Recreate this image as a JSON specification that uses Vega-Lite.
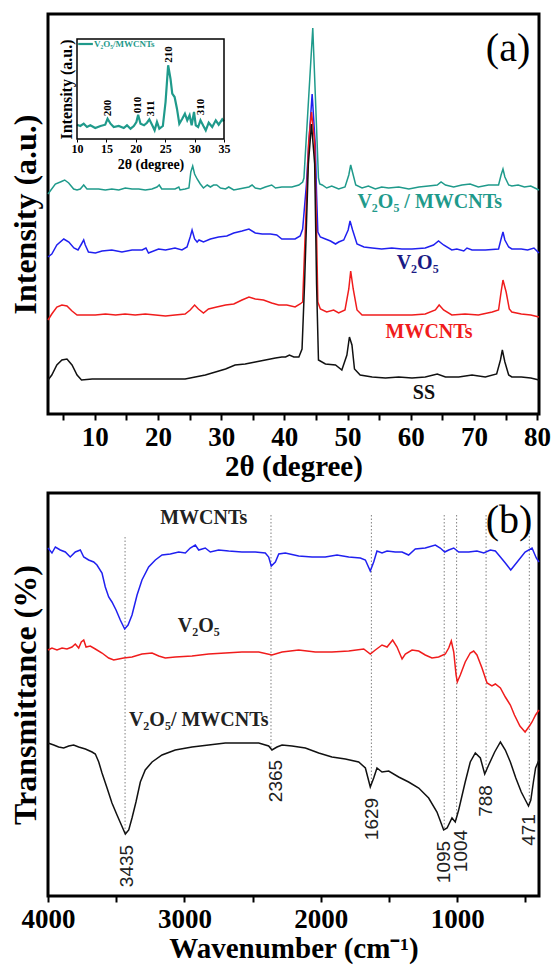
{
  "$schema": "https://vega.github.io/schema/vega-lite/v6.json",
  "padding": {"left": 7, "top": 12, "right": 0, "bottom": 0},
  "spacing": 8,
  "config": {
    "font": "Liberation Serif",
    "view": {"stroke": "#000", "strokeWidth": 3},
    "axis": {
      "labelFont": "Liberation Serif", "titleFont": "Liberation Serif",
      "labelColor": "#000", "titleColor": "#000", "tickColor": "#000",
      "labelFontWeight": "bold", "titleFontWeight": "bold",
      "grid": false, "domain": false
    }
  },
  "datasets": {
    "xC": [{"t":2.6,"i":220},{"t":3.76,"i":230},{"t":4.55,"i":232},{"t":5.24,"i":234},{"t":5.87,"i":231},{"t":6.66,"i":225},{"t":7.19,"i":224},{"t":7.71,"i":225},{"t":8.25,"i":229},{"t":8.77,"i":225},{"t":9.56,"i":225},{"t":10.6,"i":225},{"t":11.67,"i":224},{"t":12.7,"i":225},{"t":13.8,"i":224},{"t":14.83,"i":226},{"t":15.9,"i":225},{"t":16.95,"i":225},{"t":18.0,"i":224},{"t":19.05,"i":225},{"t":19.85,"i":227},{"t":20.2,"i":229},{"t":20.6,"i":225},{"t":21.7,"i":225},{"t":22.7,"i":225},{"t":23.3,"i":227},{"t":23.5,"i":224},{"t":24.3,"i":225},{"t":24.9,"i":226},{"t":25.2,"i":242},{"t":25.5,"i":248},{"t":25.8,"i":240},{"t":26.2,"i":235},{"t":26.7,"i":230},{"t":27.2,"i":226},{"t":27.8,"i":229},{"t":28.3,"i":227},{"t":28.8,"i":229},{"t":29.3,"i":229},{"t":29.9,"i":226},{"t":30.7,"i":225},{"t":31.2,"i":227},{"t":32.0,"i":224},{"t":32.8,"i":225},{"t":33.6,"i":226},{"t":34.4,"i":227},{"t":34.9,"i":229},{"t":35.4,"i":226},{"t":36.2,"i":225},{"t":37.0,"i":227},{"t":38.0,"i":229},{"t":38.6,"i":226},{"t":39.6,"i":227},{"t":40.5,"i":227},{"t":41.2,"i":227},{"t":42.3,"i":229},{"t":42.9,"i":232},{"t":43.1,"i":236},{"t":44.5,"i":386},{"t":45.4,"i":236},{"t":45.6,"i":230},{"t":46.0,"i":229},{"t":46.7,"i":226},{"t":47.5,"i":228},{"t":48.6,"i":225},{"t":49.6,"i":227},{"t":50.2,"i":239},{"t":50.5,"i":249},{"t":50.9,"i":239},{"t":51.3,"i":229},{"t":52.3,"i":226},{"t":53.3,"i":228},{"t":54.4,"i":225},{"t":55.4,"i":227},{"t":56.5,"i":226},{"t":58.1,"i":227},{"t":59.7,"i":225},{"t":61.3,"i":227},{"t":62.8,"i":228},{"t":64.2,"i":229},{"t":64.8,"i":232},{"t":65.5,"i":229},{"t":66.8,"i":227},{"t":68.1,"i":229},{"t":69.4,"i":230},{"t":70.7,"i":227},{"t":72.3,"i":229},{"t":73.9,"i":229},{"t":74.3,"i":239},{"t":74.6,"i":245},{"t":74.9,"i":237},{"t":75.5,"i":229},{"t":76.0,"i":228},{"t":77.0,"i":229},{"t":78.0,"i":227},{"t":79.0,"i":228},{"t":80.3,"i":224}],
    "xV": [{"t":2.6,"i":157},{"t":3.2,"i":160},{"t":4.0,"i":169},{"t":5.1,"i":175},{"t":5.9,"i":172},{"t":6.7,"i":166},{"t":7.35,"i":164},{"t":7.9,"i":170},{"t":8.25,"i":174},{"t":8.5,"i":169},{"t":9.0,"i":162},{"t":10.1,"i":161},{"t":11.15,"i":163},{"t":12.7,"i":164},{"t":14.3,"i":162},{"t":15.9,"i":164},{"t":17.5,"i":164},{"t":18.1,"i":166},{"t":18.5,"i":161},{"t":20.1,"i":165},{"t":21.2,"i":164},{"t":22.7,"i":166},{"t":23.8,"i":164},{"t":24.6,"i":167},{"t":25.1,"i":177},{"t":25.4,"i":184},{"t":25.8,"i":175},{"t":26.2,"i":172},{"t":26.5,"i":174},{"t":27.2,"i":172},{"t":28.3,"i":175},{"t":29.6,"i":177},{"t":30.9,"i":178},{"t":32.0,"i":181},{"t":33.3,"i":183},{"t":34.4,"i":185},{"t":35.4,"i":181},{"t":36.5,"i":180},{"t":37.8,"i":180},{"t":38.8,"i":179},{"t":39.6,"i":175},{"t":40.7,"i":175},{"t":41.7,"i":175},{"t":42.5,"i":178},{"t":42.9,"i":185},{"t":43.5,"i":230},{"t":43.85,"i":269},{"t":44.4,"i":320},{"t":44.9,"i":269},{"t":45.1,"i":220},{"t":45.3,"i":182},{"t":45.7,"i":177},{"t":46.5,"i":175},{"t":47.3,"i":173},{"t":48.1,"i":170},{"t":48.6,"i":172},{"t":49.4,"i":174},{"t":50.1,"i":184},{"t":50.4,"i":193},{"t":50.8,"i":184},{"t":51.5,"i":170},{"t":52.6,"i":167},{"t":53.9,"i":166},{"t":55.4,"i":165},{"t":57.0,"i":166},{"t":58.6,"i":165},{"t":60.2,"i":165},{"t":62.3,"i":166},{"t":63.6,"i":169},{"t":64.4,"i":173},{"t":65.2,"i":169},{"t":66.5,"i":164},{"t":67.3,"i":165},{"t":68.4,"i":163},{"t":68.9,"i":166},{"t":69.7,"i":164},{"t":71.8,"i":164},{"t":73.9,"i":165},{"t":74.3,"i":175},{"t":74.6,"i":182},{"t":74.9,"i":174},{"t":75.5,"i":167},{"t":76.0,"i":165},{"t":77.5,"i":165},{"t":78.5,"i":164},{"t":79.5,"i":166},{"t":80.3,"i":161}],
    "xM": [{"t":2.6,"i":94},{"t":3.2,"i":100},{"t":4.0,"i":107},{"t":4.8,"i":109},{"t":5.6,"i":108},{"t":6.4,"i":103},{"t":7.2,"i":99},{"t":8.5,"i":99},{"t":10.1,"i":99},{"t":11.7,"i":100},{"t":13.3,"i":99},{"t":14.8,"i":100},{"t":16.4,"i":99},{"t":18.0,"i":100},{"t":19.6,"i":99},{"t":21.2,"i":98},{"t":22.7,"i":99},{"t":24.3,"i":100},{"t":25.1,"i":104},{"t":25.8,"i":109},{"t":26.4,"i":105},{"t":27.2,"i":101},{"t":28.0,"i":105},{"t":29.3,"i":107},{"t":30.7,"i":109},{"t":32.0,"i":110},{"t":33.3,"i":114},{"t":34.4,"i":117},{"t":35.4,"i":115},{"t":36.7,"i":114},{"t":38.0,"i":111},{"t":39.1,"i":109},{"t":40.4,"i":109},{"t":41.7,"i":107},{"t":42.5,"i":110},{"t":42.9,"i":112},{"t":43.3,"i":180},{"t":43.85,"i":272},{"t":44.3,"i":302},{"t":44.8,"i":272},{"t":45.1,"i":180},{"t":45.3,"i":112},{"t":45.7,"i":105},{"t":46.7,"i":102},{"t":47.8,"i":104},{"t":48.6,"i":101},{"t":49.6,"i":104},{"t":50.2,"i":125},{"t":50.5,"i":143},{"t":50.9,"i":125},{"t":51.5,"i":104},{"t":52.3,"i":99},{"t":53.9,"i":99},{"t":56.0,"i":99},{"t":58.1,"i":99},{"t":60.2,"i":99},{"t":62.3,"i":100},{"t":63.9,"i":104},{"t":64.5,"i":109},{"t":65.2,"i":104},{"t":66.5,"i":99},{"t":68.6,"i":100},{"t":70.7,"i":99},{"t":72.9,"i":102},{"t":73.9,"i":104},{"t":74.3,"i":122},{"t":74.6,"i":134},{"t":75.1,"i":122},{"t":75.6,"i":105},{"t":76.0,"i":102},{"t":77.5,"i":100},{"t":79.0,"i":99},{"t":80.3,"i":97}],
    "xS": [{"t":2.6,"i":34},{"t":3.2,"i":39},{"t":4.0,"i":49},{"t":4.8,"i":54},{"t":5.6,"i":55},{"t":6.4,"i":49},{"t":7.2,"i":39},{"t":7.9,"i":34},{"t":9.6,"i":35},{"t":12.2,"i":35},{"t":14.8,"i":35},{"t":17.5,"i":35},{"t":20.1,"i":35},{"t":22.7,"i":35},{"t":24.3,"i":35},{"t":25.9,"i":37},{"t":27.5,"i":39},{"t":29.1,"i":42},{"t":30.7,"i":45},{"t":32.2,"i":49},{"t":33.8,"i":50},{"t":35.4,"i":52},{"t":37.0,"i":54},{"t":38.6,"i":56},{"t":39.6,"i":57},{"t":40.2,"i":57},{"t":40.8,"i":59},{"t":41.5,"i":57},{"t":42.3,"i":57},{"t":42.8,"i":65},{"t":43.2,"i":130},{"t":43.8,"i":250},{"t":44.3,"i":290},{"t":44.8,"i":250},{"t":45.1,"i":130},{"t":45.4,"i":54},{"t":46.5,"i":50},{"t":48.1,"i":49},{"t":49.1,"i":44},{"t":49.9,"i":59},{"t":50.3,"i":77},{"t":50.7,"i":69},{"t":51.1,"i":45},{"t":52.0,"i":39},{"t":53.9,"i":37},{"t":56.0,"i":36},{"t":58.1,"i":37},{"t":60.2,"i":36},{"t":62.3,"i":37},{"t":64.2,"i":40},{"t":65.5,"i":37},{"t":67.6,"i":37},{"t":69.7,"i":39},{"t":71.8,"i":37},{"t":73.6,"i":40},{"t":74.2,"i":54},{"t":74.5,"i":64},{"t":74.9,"i":52},{"t":75.5,"i":39},{"t":76.0,"i":37},{"t":77.5,"i":37},{"t":79.0,"i":36},{"t":80.3,"i":34}],
    "xLabels": [{"t":63.0,"i":212,"txt":"V₂O₅ / MWCNTs","s":"V2O5/MWCNTs"},{"t":61.1,"i":151,"txt":"V₂O₅","s":"V2O5"},{"t":62.9,"i":82,"txt":"MWCNTs","s":"MWCNTs"},{"t":62.1,"i":21,"txt":"SS","s":"SS"}],
    "xTag": [{"t":75.4,"i":365,"txt":"(a)"}],
    "inset": [{"t":10.0,"i":14.3},{"t":10.57,"i":13},{"t":11.14,"i":15.3},{"t":11.7,"i":12},{"t":12.27,"i":13.7},{"t":13.1,"i":11},{"t":14.0,"i":13},{"t":14.8,"i":14.3},{"t":15.2,"i":20.3},{"t":15.7,"i":15.3},{"t":16.25,"i":12},{"t":17.1,"i":13},{"t":17.95,"i":11},{"t":18.5,"i":13.7},{"t":19.1,"i":10.3},{"t":19.66,"i":13},{"t":20.1,"i":17},{"t":20.4,"i":24.3},{"t":20.8,"i":15.3},{"t":21.4,"i":13.7},{"t":21.9,"i":16.3},{"t":22.3,"i":19.7},{"t":22.8,"i":13.7},{"t":23.2,"i":8.7},{"t":23.6,"i":17},{"t":24.0,"i":10.3},{"t":24.6,"i":13},{"t":25.06,"i":37},{"t":25.5,"i":73.7},{"t":25.9,"i":60.3},{"t":26.2,"i":45.3},{"t":26.6,"i":42},{"t":27.0,"i":30.3},{"t":27.4,"i":15.3},{"t":27.9,"i":20.3},{"t":28.35,"i":25.3},{"t":28.75,"i":18.7},{"t":29.15,"i":23.7},{"t":29.5,"i":13.7},{"t":29.9,"i":27},{"t":30.2,"i":13.7},{"t":30.6,"i":12},{"t":31.0,"i":18.7},{"t":31.5,"i":13},{"t":31.9,"i":8.7},{"t":32.4,"i":16.3},{"t":33.0,"i":12},{"t":33.6,"i":18.7},{"t":34.1,"i":14.3},{"t":34.7,"i":19.7},{"t":35.0,"i":17.7}],
    "insetFrame": [{"t":10,"t1":35,"i":0,"i1":100}],
    "insetLegend": [{"t":10.2,"t1":12.7,"tx":12.9,"i":95,"txt":"V₂O₅/MWCNTs"}],
    "insetPeaks": [{"t":15.2,"i":31,"txt":"200"},{"t":20.4,"i":34,"txt":"010"},{"t":22.5,"i":30.5,"txt":"311"},{"t":25.6,"i":84.5,"txt":"210"},{"t":31.1,"i":32,"txt":"310"}],
    "fM": [{"w":4000,"T":348},{"w":3971,"T":343},{"w":3946,"T":349},{"w":3910,"T":346},{"w":3873,"T":344},{"w":3837,"T":339},{"w":3800,"T":344},{"w":3763,"T":346},{"w":3738,"T":339},{"w":3702,"T":336},{"w":3665,"T":334},{"w":3641,"T":331},{"w":3604,"T":323},{"w":3580,"T":309},{"w":3555,"T":299},{"w":3531,"T":294},{"w":3501,"T":286},{"w":3470,"T":276},{"w":3438,"T":267},{"w":3413,"T":271},{"w":3384,"T":281},{"w":3347,"T":301},{"w":3311,"T":316},{"w":3262,"T":329},{"w":3213,"T":336},{"w":3164,"T":341},{"w":3103,"T":342},{"w":3042,"T":344},{"w":2993,"T":343},{"w":2957,"T":348},{"w":2920,"T":351},{"w":2895,"T":346},{"w":2847,"T":348},{"w":2810,"T":344},{"w":2749,"T":346},{"w":2675,"T":345},{"w":2578,"T":344},{"w":2480,"T":344},{"w":2407,"T":343},{"w":2382,"T":339},{"w":2363,"T":330},{"w":2333,"T":334},{"w":2308,"T":342},{"w":2260,"T":343},{"w":2162,"T":340},{"w":2064,"T":339},{"w":1967,"T":339},{"w":1881,"T":341},{"w":1795,"T":339},{"w":1710,"T":338},{"w":1673,"T":336},{"w":1637,"T":325},{"w":1612,"T":334},{"w":1588,"T":345},{"w":1551,"T":343},{"w":1514,"T":345},{"w":1454,"T":344},{"w":1404,"T":344},{"w":1356,"T":341},{"w":1307,"T":347},{"w":1234,"T":348},{"w":1160,"T":351},{"w":1124,"T":348},{"w":1091,"T":344},{"w":1062,"T":346},{"w":1025,"T":348},{"w":989,"T":344},{"w":915,"T":344},{"w":855,"T":345},{"w":805,"T":343},{"w":757,"T":346},{"w":720,"T":345},{"w":683,"T":339},{"w":647,"T":333},{"w":607,"T":326},{"w":560,"T":334},{"w":502,"T":344},{"w":451,"T":348},{"w":420,"T":338},{"w":400,"T":334}],
    "fV": [{"w":4000,"T":246},{"w":3971,"T":248},{"w":3934,"T":246},{"w":3897,"T":248},{"w":3861,"T":247},{"w":3824,"T":249},{"w":3800,"T":252},{"w":3775,"T":248},{"w":3756,"T":254},{"w":3738,"T":256},{"w":3721,"T":249},{"w":3690,"T":250},{"w":3653,"T":247},{"w":3604,"T":243},{"w":3555,"T":238},{"w":3518,"T":236},{"w":3482,"T":237},{"w":3445,"T":238},{"w":3384,"T":239},{"w":3311,"T":242},{"w":3237,"T":243},{"w":3188,"T":240},{"w":3140,"T":238},{"w":3067,"T":239},{"w":2944,"T":240},{"w":2822,"T":242},{"w":2700,"T":243},{"w":2578,"T":244},{"w":2455,"T":244},{"w":2358,"T":241},{"w":2284,"T":244},{"w":2162,"T":246},{"w":2040,"T":244},{"w":1918,"T":244},{"w":1795,"T":245},{"w":1685,"T":247},{"w":1637,"T":242},{"w":1600,"T":246},{"w":1551,"T":251},{"w":1514,"T":249},{"w":1473,"T":256},{"w":1441,"T":249},{"w":1404,"T":237},{"w":1380,"T":242},{"w":1331,"T":246},{"w":1282,"T":245},{"w":1234,"T":241},{"w":1185,"T":238},{"w":1136,"T":239},{"w":1087,"T":242},{"w":1062,"T":248},{"w":1043,"T":255},{"w":1025,"T":244},{"w":1008,"T":221},{"w":999,"T":214},{"w":977,"T":221},{"w":941,"T":234},{"w":904,"T":243},{"w":879,"T":245},{"w":855,"T":241},{"w":818,"T":228},{"w":781,"T":213},{"w":745,"T":210},{"w":720,"T":212},{"w":683,"T":208},{"w":647,"T":199},{"w":610,"T":191},{"w":580,"T":181},{"w":540,"T":170},{"w":502,"T":164},{"w":470,"T":170},{"w":451,"T":174},{"w":425,"T":181},{"w":400,"T":186}],
    "fC": [{"w":4000,"T":153},{"w":3958,"T":151},{"w":3922,"T":149},{"w":3885,"T":148},{"w":3848,"T":150},{"w":3812,"T":151},{"w":3775,"T":149},{"w":3726,"T":147},{"w":3677,"T":144},{"w":3653,"T":142},{"w":3628,"T":134},{"w":3604,"T":123},{"w":3567,"T":108},{"w":3531,"T":93},{"w":3494,"T":81},{"w":3462,"T":71},{"w":3433,"T":62},{"w":3408,"T":66},{"w":3384,"T":78},{"w":3355,"T":94},{"w":3323,"T":114},{"w":3287,"T":126},{"w":3237,"T":134},{"w":3164,"T":141},{"w":3067,"T":146},{"w":2944,"T":149},{"w":2822,"T":151},{"w":2700,"T":153},{"w":2578,"T":153},{"w":2455,"T":153},{"w":2382,"T":150},{"w":2358,"T":146},{"w":2321,"T":149},{"w":2284,"T":151},{"w":2211,"T":150},{"w":2113,"T":148},{"w":2015,"T":143},{"w":1918,"T":139},{"w":1820,"T":137},{"w":1722,"T":134},{"w":1673,"T":128},{"w":1637,"T":109},{"w":1612,"T":118},{"w":1588,"T":128},{"w":1551,"T":124},{"w":1502,"T":125},{"w":1429,"T":119},{"w":1356,"T":114},{"w":1282,"T":108},{"w":1209,"T":98},{"w":1148,"T":84},{"w":1099,"T":66},{"w":1074,"T":68},{"w":1038,"T":78},{"w":1014,"T":74},{"w":989,"T":86},{"w":941,"T":114},{"w":904,"T":134},{"w":867,"T":143},{"w":830,"T":138},{"w":798,"T":122},{"w":769,"T":131},{"w":725,"T":144},{"w":683,"T":154},{"w":647,"T":146},{"w":610,"T":134},{"w":570,"T":118},{"w":530,"T":104},{"w":500,"T":96},{"w":477,"T":90},{"w":460,"T":96},{"w":440,"T":115},{"w":425,"T":128},{"w":400,"T":136}],
    "fLines": [{"w":3435,"T":359,"bot":64},{"w":2365,"T":381,"bot":148},{"w":1629,"T":381,"bot":112},{"w":1095,"T":381,"bot":68},{"w":1004,"T":381,"bot":76},{"w":788,"T":381,"bot":124},{"w":471,"T":381,"bot":92}],
    "fNums": [{"w":3418,"T":30,"txt":"3435"},{"w":2327,"T":115,"txt":"2365"},{"w":1624,"T":77,"txt":"1629"},{"w":1099,"T":34,"txt":"1095"},{"w":969,"T":45,"txt":"1004"},{"w":785,"T":95,"txt":"788"},{"w":473,"T":66,"txt":"471"}],
    "fNames": [{"w":2858,"T":378,"txt":"MWCNTs"},{"w":2895,"T":270,"txt":"V₂O₅"},{"w":2895,"T":176,"txt":"V₂O₅/ MWCNTs"}],
    "fTag": [{"w":620,"T":375,"txt":"(b)"}]
  },
  "vconcat": [
    {
      "width": 491,
      "height": 400,
      "resolve": {"scale": {"x": "independent", "y": "independent"}, "axis": {"x": "independent", "y": "independent"}},
      "layer": [
        {
          "layer": [
            {
              "data": {"name": "xC"},
              "mark": {"type": "line", "color": "#1f9a8b", "strokeWidth": 1.5},
              "encoding": {
                "x": {"field": "t", "type": "quantitative", "scale": {"domain": [2.6, 80.3], "nice": false, "zero": false},
                  "axis": {"orient": "bottom", "title": "2θ (degree)", "values": [10,20,30,40,50,60,70,80], "format": "d", "labelFlush": false, "labelOverlap": false, "tickSize": 6, "tickWidth": 2, "labelPadding": 4, "labelFontSize": 27, "titleFontSize": 29, "titlePadding": 2}},
                "y": {"field": "i", "type": "quantitative", "scale": {"domain": [0, 400], "nice": false, "zero": false},
                  "axis": {"orient": "left", "title": "Intensity (a.u.)", "ticks": false, "labels": false, "titleFontSize": 32, "titlePadding": 6}}
              }
            },
            {
              "data": {"name": "xV"},
              "mark": {"type": "line", "color": "#2020f0", "strokeWidth": 1.5},
              "encoding": {"x": {"field": "t", "type": "quantitative"}, "y": {"field": "i", "type": "quantitative"}}
            },
            {
              "data": {"name": "xM"},
              "mark": {"type": "line", "color": "#f01c1c", "strokeWidth": 1.5},
              "encoding": {"x": {"field": "t", "type": "quantitative"}, "y": {"field": "i", "type": "quantitative"}}
            },
            {
              "data": {"name": "xS"},
              "mark": {"type": "line", "color": "#111111", "strokeWidth": 1.5},
              "encoding": {"x": {"field": "t", "type": "quantitative"}, "y": {"field": "i", "type": "quantitative"}}
            },
            {
              "data": {"name": "xLabels"},
              "mark": {"type": "text", "font": "Liberation Serif", "fontWeight": "bold", "fontSize": 20, "align": "center", "baseline": "middle"},
              "encoding": {
                "x": {"field": "t", "type": "quantitative"},
                "y": {"field": "i", "type": "quantitative"},
                "text": {"field": "txt"},
                "color": {"field": "s", "type": "nominal", "legend": null, "scale": {"domain": ["V2O5/MWCNTs", "V2O5", "MWCNTs", "SS"], "range": ["#1f9a8b", "#1a1a84", "#f01c1c", "#111111"]}}
              }
            }
          ]
        },
        {
          "data": {"name": "xTag"},
          "mark": {"type": "text", "font": "Liberation Serif", "fontSize": 40, "align": "center", "baseline": "middle", "color": "#000"},
          "encoding": {
            "x": {"field": "t", "type": "quantitative", "scale": {"domain": [2.6, 80.3], "nice": false, "zero": false},
              "axis": {"orient": "bottom", "title": null, "values": [5,15,25,35,45,55,65,75], "labels": false, "tickSize": 6, "tickWidth": 2}},
            "y": {"field": "i", "type": "quantitative", "scale": {"domain": [0, 400], "nice": false, "zero": false}, "axis": null},
            "text": {"field": "txt"}
          }
        },
        {
          "layer": [
            {
              "data": {"name": "inset"},
              "mark": {"type": "line", "color": "#1f9a8b", "strokeWidth": 2.2},
              "encoding": {
                "x": {"field": "t", "type": "quantitative", "scale": {"domain": [10, 35], "range": [29, 176], "nice": false, "zero": false},
                  "axis": {"orient": "bottom", "offset": -275, "title": "2θ (degree)", "values": [10, 15, 20, 25, 30, 35], "labelFlush": false, "tickSize": 3, "tickWidth": 1, "labelPadding": 1, "labelFontSize": 12, "titleFontSize": 14, "titlePadding": 3}},
                "y": {"field": "i", "type": "quantitative", "scale": {"domain": [0, 100], "range": [125, 25], "nice": false, "zero": false},
                  "axis": {"orient": "left", "offset": -29, "title": "Intensity (a.u.)", "ticks": false, "labels": false, "titleFontSize": 16, "titlePadding": 3}}
              }
            },
            {
              "data": {"name": "insetFrame"},
              "mark": {"type": "rect", "fill": null, "fillOpacity": 0, "stroke": "#000", "strokeWidth": 1.5},
              "encoding": {
                "x": {"field": "t", "type": "quantitative"}, "x2": {"field": "t1"},
                "y": {"field": "i", "type": "quantitative"}, "y2": {"field": "i1"}
              }
            },
            {
              "data": {"name": "insetLegend"},
              "mark": {"type": "rule", "color": "#1f9a8b", "strokeWidth": 2.2},
              "encoding": {
                "x": {"field": "t", "type": "quantitative"}, "x2": {"field": "t1"},
                "y": {"field": "i", "type": "quantitative"}
              }
            },
            {
              "data": {"name": "insetLegend"},
              "mark": {"type": "text", "font": "Liberation Serif", "fontWeight": "bold", "fontSize": 9, "align": "left", "baseline": "middle", "color": "#1f9a8b"},
              "encoding": {
                "x": {"field": "tx", "type": "quantitative"},
                "y": {"field": "i", "type": "quantitative"},
                "text": {"field": "txt"}
              }
            },
            {
              "data": {"name": "insetPeaks"},
              "mark": {"type": "text", "font": "Liberation Serif", "fontWeight": "bold", "fontSize": 11, "align": "center", "baseline": "middle", "angle": 270, "color": "#000"},
              "encoding": {
                "x": {"field": "t", "type": "quantitative"},
                "y": {"field": "i", "type": "quantitative"},
                "text": {"field": "txt"}
              }
            }
          ]
        }
      ]
    },
    {
      "width": 491,
      "height": 403,
      "layer": [
        {
          "data": {"name": "fLines"},
          "mark": {"type": "rule", "color": "#808080", "strokeWidth": 1, "strokeDash": [1.5, 2]},
          "encoding": {
            "x": {"field": "w", "type": "quantitative", "scale": {"domain": [400, 4000], "reverse": true, "nice": false, "zero": false},
              "axis": {"orient": "bottom", "title": "Wavenumber (cm⁻¹)", "values": [4000,3500,3000,2500,2000,1500,1000,500], "format": "d", "labelExpr": "datum.value % 1000 === 0 ? datum.label : ''", "labelFlush": false, "labelOverlap": false, "tickSize": 6, "tickWidth": 2, "labelPadding": 4, "labelFontSize": 27, "titleFontSize": 29, "titlePadding": 2}},
            "y": {"field": "T", "type": "quantitative", "scale": {"domain": [0, 403], "nice": false, "zero": false},
              "axis": {"orient": "left", "title": "Transmittance (%)", "ticks": false, "labels": false, "titleFontSize": 32, "titlePadding": 6}},
            "y2": {"field": "bot"}
          }
        },
        {
          "data": {"name": "fM"},
          "mark": {"type": "line", "color": "#2020f0", "strokeWidth": 1.5},
          "encoding": {"x": {"field": "w", "type": "quantitative"}, "y": {"field": "T", "type": "quantitative"}}
        },
        {
          "data": {"name": "fV"},
          "mark": {"type": "line", "color": "#f01c1c", "strokeWidth": 1.5},
          "encoding": {"x": {"field": "w", "type": "quantitative"}, "y": {"field": "T", "type": "quantitative"}}
        },
        {
          "data": {"name": "fC"},
          "mark": {"type": "line", "color": "#111111", "strokeWidth": 1.5},
          "encoding": {"x": {"field": "w", "type": "quantitative"}, "y": {"field": "T", "type": "quantitative"}}
        },
        {
          "data": {"name": "fNames"},
          "mark": {"type": "text", "font": "Liberation Serif", "fontWeight": "bold", "fontSize": 20, "align": "center", "baseline": "middle", "color": "#222"},
          "encoding": {
            "x": {"field": "w", "type": "quantitative"},
            "y": {"field": "T", "type": "quantitative"},
            "text": {"field": "txt"}
          }
        },
        {
          "data": {"name": "fNums"},
          "mark": {"type": "text", "font": "Liberation Sans", "fontSize": 19, "align": "center", "baseline": "middle", "angle": 270, "color": "#222"},
          "encoding": {
            "x": {"field": "w", "type": "quantitative"},
            "y": {"field": "T", "type": "quantitative"},
            "text": {"field": "txt"}
          }
        },
        {
          "data": {"name": "fTag"},
          "mark": {"type": "text", "font": "Liberation Serif", "fontSize": 40, "align": "center", "baseline": "middle", "color": "#000"},
          "encoding": {
            "x": {"field": "w", "type": "quantitative"},
            "y": {"field": "T", "type": "quantitative"},
            "text": {"field": "txt"}
          }
        }
      ]
    }
  ]
}
